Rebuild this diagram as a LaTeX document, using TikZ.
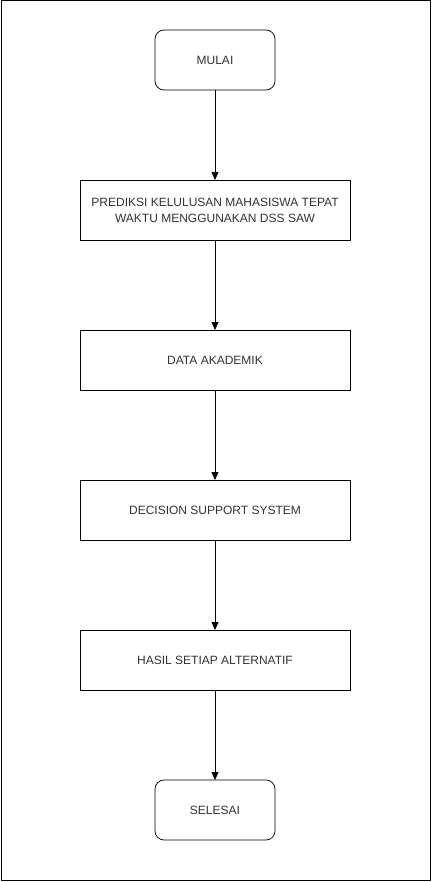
\documentclass[tikz,border=0pt]{standalone}
\usepackage{fontspec}
\setmainfont{Liberation Sans}
\usetikzlibrary{arrows.meta,positioning}
\tikzset{
  flowarrow/.style={-{Triangle[length=8pt,width=7pt]}, line width=0.75pt, draw=black},
  terminal/.style={draw=black, line width=0.75pt, rounded corners=9pt, fill=white,
    align=center, minimum width=120pt, minimum height=60pt, inner sep=2pt, outer sep=0pt,
    font=\fontsize{12}{16}\selectfont, text=black!80},
  process/.style={draw=black, line width=0.75pt, fill=white,
    align=center, minimum width=270pt, minimum height=60pt, inner sep=2pt, outer sep=0pt,
    font=\fontsize{12}{16}\selectfont, text=black!80}
}

\begin{document}
\begin{tikzpicture}[x=1pt, y=-1pt, node distance=90pt]
        \useasboundingbox (0,0) rectangle (432,882);
        \draw[line width=1pt] (1,1) rectangle (430,880);

        \node[terminal] (mulai) at (215,60) {MULAI};
        \node[process, below=of mulai] (prediksi) {PREDIKSI KELULUSAN MAHASISWA TEPAT\\WAKTU MENGGUNAKAN DSS SAW};
        \node[process, below=of prediksi] (data) {DATA AKADEMIK};
        \node[process, below=of data] (dss) {DECISION SUPPORT SYSTEM};
        \node[process, below=of dss] (hasil) {HASIL SETIAP ALTERNATIF};
        \node[terminal, below=of hasil] (selesai) {SELESAI};

        \draw[flowarrow] (mulai) -- (prediksi);
        \draw[flowarrow] (prediksi) -- (data);
        \draw[flowarrow] (data) -- (dss);
        \draw[flowarrow] (dss) -- (hasil);
        \draw[flowarrow] (hasil) -- (selesai);
    \end{tikzpicture}
\end{document}
